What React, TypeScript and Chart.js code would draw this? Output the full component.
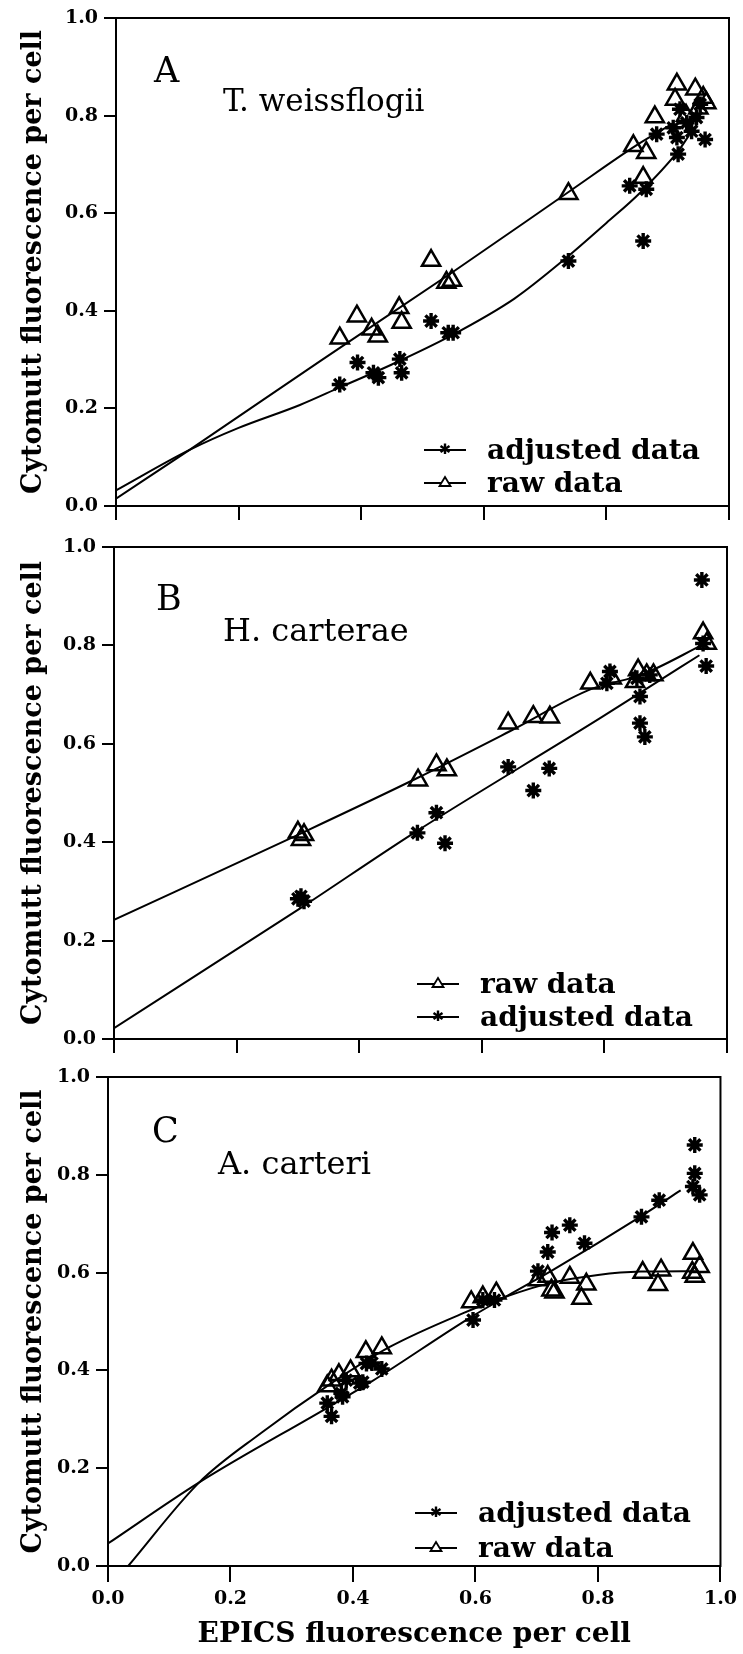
import React, { useEffect, useRef } from 'react';
import { Chart, registerables } from 'chart.js';

Chart.register(...registerables);

const FONT = "'DejaVu Serif', 'Liberation Serif', serif";

// ---------- Panel A: T. weissflogii ----------
const aRawX = [0.365, 0.393, 0.417, 0.427, 0.462, 0.466, 0.514, 0.539, 0.548, 0.738, 0.844, 0.86, 0.865, 0.879, 0.912, 0.915, 0.93, 0.945, 0.95, 0.958, 0.963];
const aRawY = [0.344, 0.389, 0.362, 0.348, 0.406, 0.376, 0.503, 0.458, 0.462, 0.64, 0.738, 0.673, 0.724, 0.797, 0.833, 0.864, 0.8, 0.854, 0.815, 0.837, 0.826];
const aAdjX = [0.365, 0.394, 0.42, 0.428, 0.463, 0.466, 0.514, 0.542, 0.55, 0.738, 0.838, 0.865, 0.86, 0.882, 0.909, 0.915, 0.917, 0.92, 0.931, 0.939, 0.947, 0.953, 0.961];
const aAdjY = [0.249, 0.294, 0.273, 0.263, 0.301, 0.273, 0.379, 0.355, 0.355, 0.502, 0.656, 0.649, 0.543, 0.762, 0.775, 0.755, 0.721, 0.813, 0.785, 0.768, 0.796, 0.823, 0.751];
const aRawFitX = [0, 0.12, 0.333, 0.55, 0.74, 0.85, 0.91];
const aRawFitY = [0.015, 0.115, 0.297, 0.48, 0.645, 0.74, 0.785];
const aAdjFitX = [0, 0.12, 0.2, 0.3, 0.365, 0.45, 0.545, 0.65, 0.735, 0.8, 0.855, 0.917, 0.935];
const aAdjFitY = [0.032, 0.115, 0.16, 0.207, 0.243, 0.29, 0.348, 0.425, 0.509, 0.58, 0.642, 0.727, 0.76];

// ---------- Panel B: H. carterae ----------
const bRawX = [0.3, 0.305, 0.31, 0.496, 0.526, 0.543, 0.643, 0.684, 0.711, 0.777, 0.812, 0.85, 0.855, 0.869, 0.88, 0.961, 0.967];
const bRawY = [0.42, 0.405, 0.415, 0.526, 0.557, 0.547, 0.642, 0.655, 0.654, 0.723, 0.733, 0.726, 0.75, 0.74, 0.74, 0.825, 0.804];
const bAdjX = [0.3, 0.305, 0.31, 0.495, 0.526, 0.54, 0.643, 0.684, 0.71, 0.804, 0.809, 0.853, 0.858, 0.858, 0.866, 0.874, 0.959, 0.961, 0.966];
const bAdjY = [0.285, 0.29, 0.28, 0.419, 0.46, 0.398, 0.553, 0.505, 0.55, 0.723, 0.747, 0.733, 0.696, 0.642, 0.614, 0.74, 0.933, 0.804, 0.758];
const bRawFitX = [0, 0.3, 0.494, 0.645, 0.78, 0.86, 0.963];
const bRawFitY = [0.242, 0.415, 0.53, 0.625, 0.712, 0.74, 0.803];
const bAdjFitX = [0, 0.303, 0.487, 0.793, 0.86, 0.955];
const bAdjFitY = [0.022, 0.265, 0.417, 0.652, 0.705, 0.78];

// ---------- Panel C: A. carteri ----------
const cRawX = [0.358, 0.365, 0.377, 0.396, 0.421, 0.447, 0.593, 0.612, 0.634, 0.702, 0.718, 0.724, 0.729, 0.754, 0.773, 0.781, 0.873, 0.898, 0.903, 0.955, 0.958, 0.966, 0.954];
const cRawY = [0.368, 0.38, 0.391, 0.399, 0.438, 0.446, 0.54, 0.55, 0.558, 0.585, 0.592, 0.564, 0.56, 0.59, 0.547, 0.576, 0.6, 0.575, 0.605, 0.639, 0.592, 0.612, 0.6];
const cAdjX = [0.358, 0.365, 0.381, 0.383, 0.389, 0.411, 0.416, 0.422, 0.431, 0.447, 0.596, 0.612, 0.631, 0.702, 0.718, 0.725, 0.754, 0.778, 0.871, 0.9, 0.958, 0.958, 0.955, 0.966];
const cAdjY = [0.333, 0.306, 0.353, 0.346, 0.38, 0.374, 0.376, 0.414, 0.415, 0.403, 0.503, 0.544, 0.544, 0.603, 0.642, 0.682, 0.697, 0.66, 0.714, 0.748, 0.861, 0.803, 0.776, 0.759];
const cRawFitX = [0.033, 0.149, 0.25, 0.36, 0.46, 0.58, 0.65, 0.72, 0.8, 0.87, 0.96];
const cRawFitY = [0, 0.171, 0.272, 0.37, 0.448, 0.517, 0.551, 0.578, 0.595, 0.602, 0.603];
const cAdjFitX = [0, 0.149, 0.36, 0.43, 0.59, 0.65, 0.726, 0.87, 0.935];
const cAdjFitY = [0.046, 0.171, 0.325, 0.377, 0.507, 0.551, 0.605, 0.715, 0.768];

const tickValues = [0, 0.2, 0.4, 0.6, 0.8, 1.0];

type PanelSpec = {
  top: number; height: number; padTop: number; padRight: number;
  yWidth: number; xHeight: number; tickLen: number; showX: boolean;
  rawX: number[]; rawY: number[]; adjX: number[]; adjY: number[];
  rawFitX: number[]; rawFitY: number[]; adjFitX: number[]; adjFitY: number[];
};

const panelA: PanelSpec = {
  top: 0, height: 540, padTop: 18, padRight: 14, yWidth: 116, xHeight: 34, tickLen: 14, showX: false,
  rawX: aRawX, rawY: aRawY, adjX: aAdjX, adjY: aAdjY,
  rawFitX: aRawFitX, rawFitY: aRawFitY, adjFitX: aAdjFitX, adjFitY: aAdjFitY,
};
const panelB: PanelSpec = {
  top: 510, height: 560, padTop: 37, padRight: 16, yWidth: 114, xHeight: 31, tickLen: 14, showX: false,
  rawX: bRawX, rawY: bRawY, adjX: bAdjX, adjY: bAdjY,
  rawFitX: bRawFitX, rawFitY: bRawFitY, adjFitX: bAdjFitX, adjFitY: bAdjFitY,
};
const panelC: PanelSpec = {
  top: 1040, height: 614, padTop: 37, padRight: 22, yWidth: 108, xHeight: 88, tickLen: 16, showX: true,
  rawX: cRawX, rawY: cRawY, adjX: cAdjX, adjY: cAdjY,
  rawFitX: cRawFitX, rawFitY: cRawFitY, adjFitX: cAdjFitX, adjFitY: cAdjFitY,
};

const pts = (xs: number[], ys: number[]) => xs.map((x, i) => ({ x, y: ys[i] }));

const framePlugin = {
  id: 'frame',
  afterDraw(chart: any) {
    const { ctx, chartArea } = chart;
    const { left, top, right, bottom } = chartArea;
    ctx.save();
    ctx.strokeStyle = '#000';
    ctx.lineWidth = 2;
    ctx.strokeRect(left, top, right - left, bottom - top);
    ctx.restore();
  },
};

function PanelChart({ p }: { p: PanelSpec }) {
  const ref = useRef<HTMLCanvasElement>(null);
  useEffect(() => {
    const fitStyle = {
      showLine: true, pointRadius: 0, borderColor: '#000', borderWidth: 2,
      cubicInterpolationMode: 'monotone' as const, fill: false,
    };
    const chart = new Chart(ref.current as HTMLCanvasElement, {
      type: 'scatter',
      data: {
        datasets: [
          { label: 'raw fit', data: pts(p.rawFitX, p.rawFitY), ...fitStyle },
          { label: 'adjusted fit', data: pts(p.adjFitX, p.adjFitY), ...fitStyle },
          {
            label: 'raw data', data: pts(p.rawX, p.rawY), pointStyle: 'triangle', pointRadius: 10.5,
            pointBorderColor: '#000', pointBackgroundColor: 'rgba(0,0,0,0)', pointBorderWidth: 2.5,
          },
          {
            label: 'adjusted data', data: pts(p.adjX, p.adjY), pointStyle: 'star', pointRadius: 8,
            pointBorderColor: '#000', pointBackgroundColor: '#000', pointBorderWidth: 3.4,
          },
        ],
      } as any,
      options: {
        responsive: false,
        animation: false,
        events: [],
        layout: { padding: { top: p.padTop, right: p.padRight, left: 0, bottom: 0 } },
        plugins: { legend: { display: false }, tooltip: { enabled: false } },
        scales: {
          x: {
            type: 'linear', min: 0, max: 1,
            afterFit: (s: any) => { s.height = p.xHeight; },
            afterBuildTicks: (s: any) => { s.ticks = tickValues.map((v) => ({ value: v })); },
            ticks: {
              display: p.showX, callback: (v: any) => Number(v).toFixed(1),
              font: { family: FONT, weight: 'bold', size: 19 }, color: '#000', padding: 6,
              maxRotation: 0, autoSkip: false,
            },
            grid: { display: true, drawOnChartArea: false, drawTicks: true, tickLength: p.tickLen, color: '#000', lineWidth: 2 },
            border: { display: true, color: '#000', width: 2 },
            title: {
              display: p.showX, text: 'EPICS fluorescence per cell',
              font: { family: FONT, weight: 'bold', size: 28 }, color: '#000', padding: { top: 0, bottom: 2 },
            },
          },
          y: {
            type: 'linear', min: 0, max: 1,
            afterFit: (s: any) => { s.width = p.yWidth; },
            afterBuildTicks: (s: any) => { s.ticks = tickValues.map((v) => ({ value: v })); },
            ticks: {
              callback: (v: any) => Number(v).toFixed(1),
              font: { family: FONT, weight: 'bold', size: 19 }, color: '#000', padding: 6,
            },
            grid: { display: true, drawOnChartArea: false, drawTicks: true, tickLength: 12, color: '#000', lineWidth: 2 },
            border: { display: true, color: '#000', width: 2 },
            title: {
              display: true, text: 'Cytomutt fluorescence per cell',
              font: { family: FONT, weight: 'bold', size: 27 }, color: '#000', padding: { top: 18, bottom: 0 },
            },
          },
        },
      } as any,
      plugins: [framePlugin],
    });
    return () => chart.destroy();
  }, []);
  return (
    <canvas ref={ref} width={743} height={p.height}
      style={{ position: 'absolute', left: 0, top: p.top, width: 743, height: p.height }} />
  );
}

function Text({ x, y, size, bold, children }: { x: number; y: number; size: number; bold?: boolean; children: React.ReactNode }) {
  return (
    <div style={{
      position: 'absolute', left: x, top: y, transform: 'translateY(-50%)', fontFamily: FONT,
      fontSize: size, fontWeight: bold ? 'bold' : 'normal', lineHeight: 1, whiteSpace: 'nowrap', color: '#000',
    }}>{children}</div>
  );
}

function LegendRow({ x, y, kind, label }: { x: number; y: number; kind: 'raw' | 'adj'; label: string }) {
  return (
    <>
      <svg width={44} height={18} style={{ position: 'absolute', left: x, top: y - 9 }}>
        <line x1={1} y1={9} x2={43} y2={9} stroke="#000" strokeWidth={2.2} />
        {kind === 'raw' ? (
          <polygon points="22,3 27.5,12 16.5,12" fill="#fff" stroke="#000" strokeWidth={1.8} />
        ) : (
          <g stroke="#000" strokeWidth={2.4}>
            <line x1={22} y1={2.5} x2={22} y2={13} />
            <line x1={17.5} y1={5} x2={26.5} y2={11} />
            <line x1={17.5} y1={11} x2={26.5} y2={5} />
          </g>
        )}
      </svg>
      <Text x={x + 64} y={y} size={28} bold>{label}</Text>
    </>
  );
}

export default function App() {
  return (
    <div style={{ position: 'absolute', left: 0, top: 0, width: 743, height: 1654, background: '#fff', overflow: 'hidden' }}>
      <PanelChart p={panelA} />
      <PanelChart p={panelB} />
      <PanelChart p={panelC} />

      <Text x={154} y={70} size={35}>A</Text>
      <Text x={223} y={100} size={31}>T. weissflogii</Text>
      <LegendRow x={423} y={450} kind="adj" label="adjusted data" />
      <LegendRow x={423} y={483} kind="raw" label="raw data" />

      <Text x={156} y={598} size={35}>B</Text>
      <Text x={223} y={630} size={32}>H. carterae</Text>
      <LegendRow x={416} y={984} kind="raw" label="raw data" />
      <LegendRow x={416} y={1017} kind="adj" label="adjusted data" />

      <Text x={152} y={1130} size={35}>C</Text>
      <Text x={218} y={1163} size={32}>A. carteri</Text>
      <LegendRow x={414} y={1513} kind="adj" label="adjusted data" />
      <LegendRow x={414} y={1548} kind="raw" label="raw data" />
    </div>
  );
}
